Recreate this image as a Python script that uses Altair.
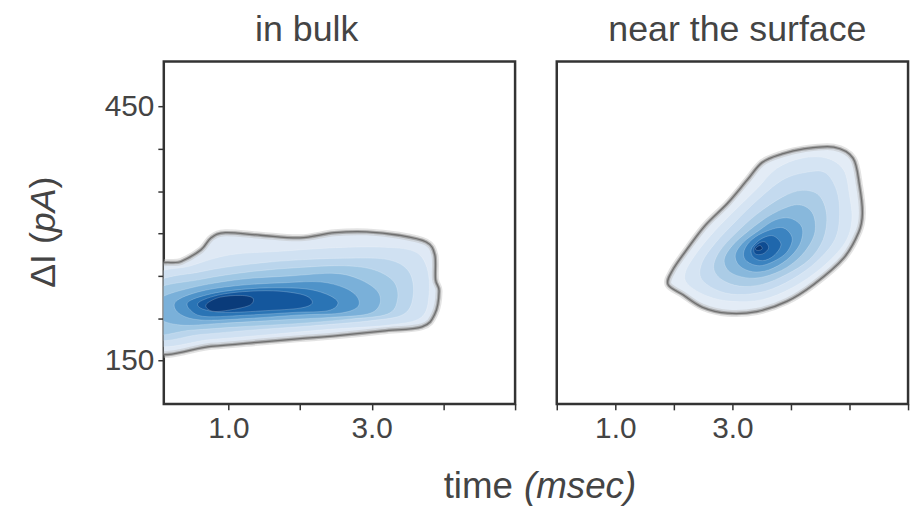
import altair as alt
import pandas as pd

# Panel titles and axis text
TITLE_BULK = "in bulk"
TITLE_SURF = "near the surface"
X_TITLE_PLAIN = "time"
X_TITLE_ITALIC = "(msec)"
Y_TITLE_PLAIN_A = "ΔI ("
Y_TITLE_ITALIC = "pA"
Y_TITLE_PLAIN_B = ")"

Y_DOMAIN = [99, 503]
Y_TICKS = [150, 200, 250, 300, 350, 400, 450]
BULK_X_DOMAIN = [0.1, 5.0]
BULK_X_TICKS = [1, 2, 3, 4, 5]
SURF_X_DOMAIN = [0, 6]
SURF_X_TICKS = [0, 1, 2, 3, 4, 5, 6]

# Density contour outlines (time msec, dI pA), outer -> inner
bulk_L0 = [(-0.07, 255), (0.34, 267), (0.62, 281), (0.76, 295), (0.96, 301), (1.45, 298), (2.00, 295), (2.48, 301), (2.93, 302), (3.38, 298), (3.76, 290), (3.88, 275), (3.89, 246), (3.94, 232), (3.88, 205), (3.70, 190), (3.15, 185), (2.46, 179), (2.00, 176), (1.45, 172), (0.76, 167), (-0.07, 163)]
bulk_L1 = [(-0.07, 246), (0.48, 262), (1.03, 275), (1.72, 279), (2.41, 283), (3.11, 284), (3.59, 279), (3.77, 260), (3.80, 228), (3.69, 201), (3.24, 192), (2.41, 187), (1.59, 181), (0.76, 175), (-0.07, 171)]
bulk_L2 = [(-0.07, 238), (0.62, 255), (1.31, 264), (2.00, 269), (2.69, 271), (3.24, 269), (3.52, 255), (3.58, 228), (3.45, 205), (2.97, 197), (2.14, 191), (1.31, 186), (0.62, 181), (-0.07, 177)]
bulk_L3 = [(-0.07, 231), (0.62, 246), (1.31, 255), (2.00, 260), (2.62, 262), (3.04, 257), (3.31, 243), (3.36, 222), (3.22, 205), (2.69, 199), (2.00, 194), (1.17, 190), (0.48, 186), (-0.07, 183)]
bulk_L4 = [(0.02, 222), (0.48, 236), (1.17, 246), (1.86, 250), (2.48, 253), (2.83, 246), (3.08, 232), (3.11, 216), (2.94, 205), (2.41, 201), (1.72, 198), (0.89, 194), (0.34, 192), (0.02, 201)]
bulk_L5 = [(0.27, 220), (0.62, 232), (1.17, 239), (1.79, 242), (2.28, 243), (2.62, 236), (2.80, 225), (2.80, 213), (2.55, 206), (2.00, 204), (1.31, 200), (0.62, 198), (0.31, 206)]
bulk_L6 = [(0.45, 220), (0.82, 230), (1.31, 235), (1.79, 236), (2.14, 234), (2.41, 227), (2.53, 218), (2.39, 209), (1.93, 207), (1.31, 204), (0.69, 202), (0.48, 209)]
bulk_L7 = [(0.59, 219), (0.89, 228), (1.31, 232), (1.72, 232), (2.07, 227), (2.17, 218), (2.00, 212), (1.52, 209), (0.96, 207), (0.64, 211)]
bulk_L8 = [(0.71, 218), (0.89, 225), (1.17, 227), (1.34, 224), (1.31, 216), (1.10, 211), (0.82, 208), (0.70, 212)]

surf_L0 = [(4.22, 400), (4.73, 402), (5.06, 389), (5.17, 357), (5.22, 324), (5.16, 302), (4.90, 271), (4.39, 240), (3.93, 220), (3.42, 208), (2.92, 206), (2.49, 213), (2.15, 228), (1.90, 240), (1.98, 257), (2.24, 283), (2.54, 310), (2.92, 336), (3.25, 363), (3.51, 384), (3.85, 394)]
surf_L1 = [(4.19, 389), (4.61, 389), (4.90, 375), (5.00, 345), (5.04, 316), (4.92, 289), (4.53, 260), (4.02, 236), (3.51, 222), (3.00, 220), (2.58, 226), (2.24, 240), (2.20, 255), (2.41, 279), (2.71, 304), (3.08, 330), (3.42, 353), (3.76, 377)]
surf_L2 = [(4.24, 372), (4.58, 372), (4.78, 351), (4.83, 322), (4.75, 293), (4.44, 267), (4.02, 246), (3.56, 232), (3.08, 228), (2.71, 234), (2.46, 248), (2.49, 267), (2.71, 289), (3.05, 314), (3.42, 339), (3.85, 363)]
surf_L3 = [(4.19, 351), (4.48, 345), (4.61, 322), (4.55, 293), (4.31, 269), (3.93, 252), (3.51, 240), (3.12, 238), (2.81, 246), (2.68, 260), (2.78, 279), (3.05, 300), (3.42, 323), (3.85, 343)]
surf_L4 = [(4.10, 334), (4.36, 325), (4.41, 302), (4.24, 279), (3.93, 260), (3.54, 249), (3.22, 248), (2.95, 255), (2.86, 269), (3.00, 286), (3.29, 304), (3.68, 323)]
surf_L5 = [(3.99, 318), (4.19, 307), (4.15, 287), (3.93, 269), (3.62, 257), (3.34, 255), (3.12, 262), (3.05, 275), (3.19, 290), (3.46, 304), (3.73, 316)]
surf_L6 = [(3.85, 307), (4.02, 295), (3.93, 278), (3.70, 267), (3.46, 262), (3.25, 267), (3.19, 277), (3.29, 290), (3.52, 301)]
surf_L7 = [(3.71, 297), (3.83, 287), (3.71, 274), (3.52, 268), (3.36, 272), (3.32, 281), (3.42, 290), (3.56, 296)]
surf_L8 = [(3.56, 290), (3.62, 283), (3.52, 276), (3.39, 276), (3.37, 283), (3.46, 289)]
surf_L9 = [(3.47, 286), (3.51, 282), (3.44, 280), (3.39, 282)]

BULK_LEVELS = [bulk_L0, bulk_L1, bulk_L2, bulk_L3, bulk_L4, bulk_L5, bulk_L6, bulk_L7, bulk_L8]
SURF_LEVELS = [surf_L0, surf_L1, surf_L2, surf_L3, surf_L4, surf_L5, surf_L6, surf_L7, surf_L8, surf_L9]

# colour ramps (light outer level -> dark peak)
BULK_RAMP = ["#dfe9f5", "#d0e1f2", "#bad5ec", "#9fc7e4", "#7ab0d9", "#4f93c9", "#2a74b5", "#14579d", "#0a3b7a"]
SURF_RAMP = ["#e3ecf6", "#d5e4f3", "#c4daef", "#abcce6", "#88b8dc", "#609fd0", "#3b83c0", "#1f67ac", "#0e4c92", "#083571"]


def to_frame(levels):
    rows = []
    for lev, pts in enumerate(levels):
        for i, (x, y) in enumerate(pts):
            rows.append({"level": lev, "i": i, "x": x, "y": y})
    return pd.DataFrame(rows)


FONT = "Liberation Sans"
TXT = "#444444"


def text_layer(txt, xpx, ypx, size, italic=False, angle=0, align="left"):
    kw = dict(font=FONT, fontSize=size, color=TXT, align=align, baseline="alphabetic")
    if italic:
        kw["fontStyle"] = "italic"
    if angle:
        kw["angle"] = angle
    return alt.Chart(pd.DataFrame({"t": [txt]})).mark_text(**kw).encode(
        text="t:N", x=alt.value(xpx), y=alt.value(ypx)
    )


def panel(levels, ramp, xdomain, xticks, show_y, extras):
    df = to_frame(levels)
    n = len(levels)
    x = alt.X(
        "x:Q",
        scale=alt.Scale(domain=xdomain, nice=False, zero=False),
        axis=alt.Axis(
            values=xticks,
            labelExpr="datum.value == 1 || datum.value == 3 ? format(datum.value, '.1f') : ''",
            title=None,
            grid=False,
        ),
    )
    if show_y:
        yaxis = alt.Axis(
            values=Y_TICKS,
            labelExpr="datum.value == 150 || datum.value == 450 ? datum.label : ''",
            title=None,
            grid=False,
        )
    else:
        yaxis = None
    y = alt.Y("y:Q", scale=alt.Scale(domain=Y_DOMAIN, nice=False, zero=False), axis=yaxis)
    base = alt.Chart(df)
    fills = base.mark_line(
        interpolate="cardinal-closed", clip=True, stroke="white", strokeWidth=0.6, strokeOpacity=0.35
    ).encode(
        x=x,
        y=y,
        order="i:Q",
        detail="level:O",
        fill=alt.Fill(
            "level:O",
            scale=alt.Scale(domain=list(range(n)), range=ramp),
            legend=None,
        ),
    )
    outer = base.transform_filter("datum.level == 0")
    rim1 = outer.mark_line(interpolate="cardinal-closed", clip=True, stroke="#b8b8b8", strokeWidth=7, strokeOpacity=0.4).encode(x=x, y=y, order="i:Q")
    rim2 = outer.mark_line(interpolate="cardinal-closed", clip=True, stroke="#909090", strokeWidth=3.5, strokeOpacity=0.7).encode(x=x, y=y, order="i:Q")
    rim3 = outer.mark_line(interpolate="cardinal-closed", clip=True, stroke="#707070", strokeWidth=1.3).encode(x=x, y=y, order="i:Q")
    return alt.layer(fills, rim1, rim2, rim3, *extras).properties(width=354, height=345)


left_extras = [
    text_layer(TITLE_BULK, 144, -21, 36, align="center"),
    text_layer(X_TITLE_PLAIN, 282, 440, 37),
    text_layer(X_TITLE_ITALIC, 363, 440, 37, italic=True),
    text_layer(Y_TITLE_PLAIN_A, -110, 228, 36, angle=270),
    text_layer(Y_TITLE_ITALIC, -110, 172, 36, italic=True, angle=270),
    text_layer(Y_TITLE_PLAIN_B, -110, 128, 36, angle=270),
]
right_extras = [
    text_layer(TITLE_SURF, 182, -21, 36, align="center"),
]

left = panel(BULK_LEVELS, BULK_RAMP, BULK_X_DOMAIN, BULK_X_TICKS, True, left_extras)
right = panel(SURF_LEVELS, SURF_RAMP, SURF_X_DOMAIN, SURF_X_TICKS, False, right_extras)

chart = (
    alt.hconcat(left, right, spacing=42, bounds="flush")
    .resolve_scale(fill="independent")
    .properties(padding={"left": 16, "top": 0, "right": 5, "bottom": 5})
    .configure_view(stroke="#333333", strokeWidth=2.5)
    .configure_axis(
        labelFont=FONT,
        labelFontSize=30,
        labelColor=TXT,
        tickColor="#333333",
        tickWidth=1.5,
        tickSize=6,
        domain=False,
        labelPadding=4,
    )
)

chart.save("out.html", embed_options={"renderer": "svg", "actions": False})
